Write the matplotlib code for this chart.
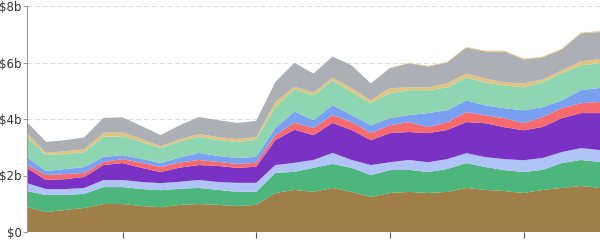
import numpy as np
import matplotlib
matplotlib.use("Agg")
import matplotlib.pyplot as plt

# x positions (periods), ticks every 7 periods
periods = list(range(31))
tick_positions = [5, 12, 19, 26]

# layer values in $ billions, bottom to top
brown = [0.88, 0.71, 0.78, 0.85, 0.99, 0.99, 0.92, 0.88, 0.96, 0.99, 0.96, 0.92, 0.96, 1.38, 1.49, 1.42,
         1.56, 1.42, 1.24, 1.38, 1.42, 1.38, 1.42, 1.56, 1.49, 1.45, 1.38, 1.49, 1.56, 1.63, 1.56]
green = [0.57, 0.60, 0.53, 0.50, 0.60, 0.60, 0.60, 0.60, 0.57, 0.57, 0.53, 0.50, 0.46, 0.71, 0.64, 0.85,
         0.85, 0.85, 0.78, 0.81, 0.78, 0.74, 0.81, 0.88, 0.81, 0.74, 0.74, 0.71, 0.88, 0.92, 0.92]
light_blue = [0.28, 0.21, 0.21, 0.21, 0.25, 0.25, 0.25, 0.25, 0.25, 0.28, 0.28, 0.32, 0.32, 0.28, 0.32, 0.28,
              0.39, 0.28, 0.35, 0.28, 0.35, 0.35, 0.35, 0.35, 0.35, 0.39, 0.42, 0.42, 0.39, 0.42, 0.42]
purple = [0.53, 0.32, 0.35, 0.39, 0.53, 0.60, 0.50, 0.39, 0.50, 0.53, 0.57, 0.53, 0.57, 0.88, 1.17, 0.88,
          1.06, 1.06, 0.88, 1.03, 0.99, 1.03, 1.03, 1.10, 1.20, 1.13, 1.06, 1.10, 1.20, 1.24, 1.31]
red = [0.11, 0.18, 0.18, 0.14, 0.11, 0.14, 0.18, 0.18, 0.18, 0.18, 0.14, 0.14, 0.14, 0.18, 0.25, 0.25,
       0.28, 0.28, 0.25, 0.28, 0.35, 0.21, 0.28, 0.35, 0.28, 0.32, 0.25, 0.35, 0.35, 0.35, 0.39]
blue = [0.28, 0.14, 0.18, 0.21, 0.18, 0.14, 0.14, 0.14, 0.18, 0.25, 0.21, 0.21, 0.21, 0.25, 0.39, 0.28,
        0.35, 0.25, 0.28, 0.25, 0.25, 0.50, 0.42, 0.42, 0.35, 0.35, 0.46, 0.35, 0.28, 0.46, 0.50]
light_green = [0.71, 0.57, 0.53, 0.53, 0.71, 0.67, 0.60, 0.53, 0.57, 0.57, 0.57, 0.57, 0.60, 0.74, 0.78, 0.88,
               0.88, 0.81, 0.78, 0.88, 0.88, 0.81, 0.81, 0.81, 0.81, 0.81, 0.81, 0.88, 0.96, 0.88, 0.88]
tan = [0.14, 0.07, 0.10, 0.10, 0.14, 0.14, 0.10, 0.07, 0.07, 0.10, 0.10, 0.10, 0.10, 0.18, 0.10, 0.10,
       0.10, 0.14, 0.10, 0.18, 0.10, 0.10, 0.14, 0.14, 0.14, 0.10, 0.14, 0.10, 0.10, 0.14, 0.14]
gray = [0.39, 0.39, 0.39, 0.42, 0.53, 0.53, 0.46, 0.39, 0.50, 0.60, 0.60, 0.57, 0.57, 0.71, 0.85, 0.67,
        0.74, 0.81, 0.60, 0.71, 0.85, 0.74, 0.74, 0.92, 0.96, 1.10, 0.85, 0.78, 0.74, 0.99, 0.96]
orange = [0.0] * 19 + [0.01, 0.02, 0.02, 0.02, 0.02, 0.03, 0.03, 0.03, 0.03, 0.03, 0.03, 0.03, 0.03][:12]

layers = [brown, green, light_blue, purple, red, blue, light_green, tan, gray, orange]
colors = ['#a07e48', '#4cb67c', '#b0c4f8', '#7a32c4', '#f66a6e',
          '#7aa0f2', '#8ed6b2', '#e2c482', '#acb0b4', '#f2c47a']

y_ticks = [0, 2, 4, 6, 8]
y_labels = ['$0', '$2b', '$4b', '$6b', '$8b']

fig = plt.figure(figsize=(6, 2.42), dpi=100)
ax = fig.add_axes([27 / 600, 10 / 242, 573 / 600, 226 / 242])

ax.stackplot(periods, *layers, colors=colors, linewidth=0)

ax.set_xlim(0, 30)
ax.set_ylim(0, 8)
ax.set_yticks(y_ticks)
ax.set_yticklabels(y_labels)
ax.set_xticks(tick_positions)
ax.set_xticklabels([])

ax.yaxis.grid(True, color='#dddddd', linestyle=(0, (4, 3)), linewidth=0.8)
ax.set_axisbelow(True)

for side in ['top', 'right', 'bottom']:
    ax.spines[side].set_visible(False)
ax.spines['left'].set_color('#999999')
ax.tick_params(axis='y', length=3, color='#999999', labelsize=8.5, labelcolor='#333333', pad=1)
ax.tick_params(axis='x', length=4, color='#555555', direction='out')

fig.savefig('out.png', dpi=100)
